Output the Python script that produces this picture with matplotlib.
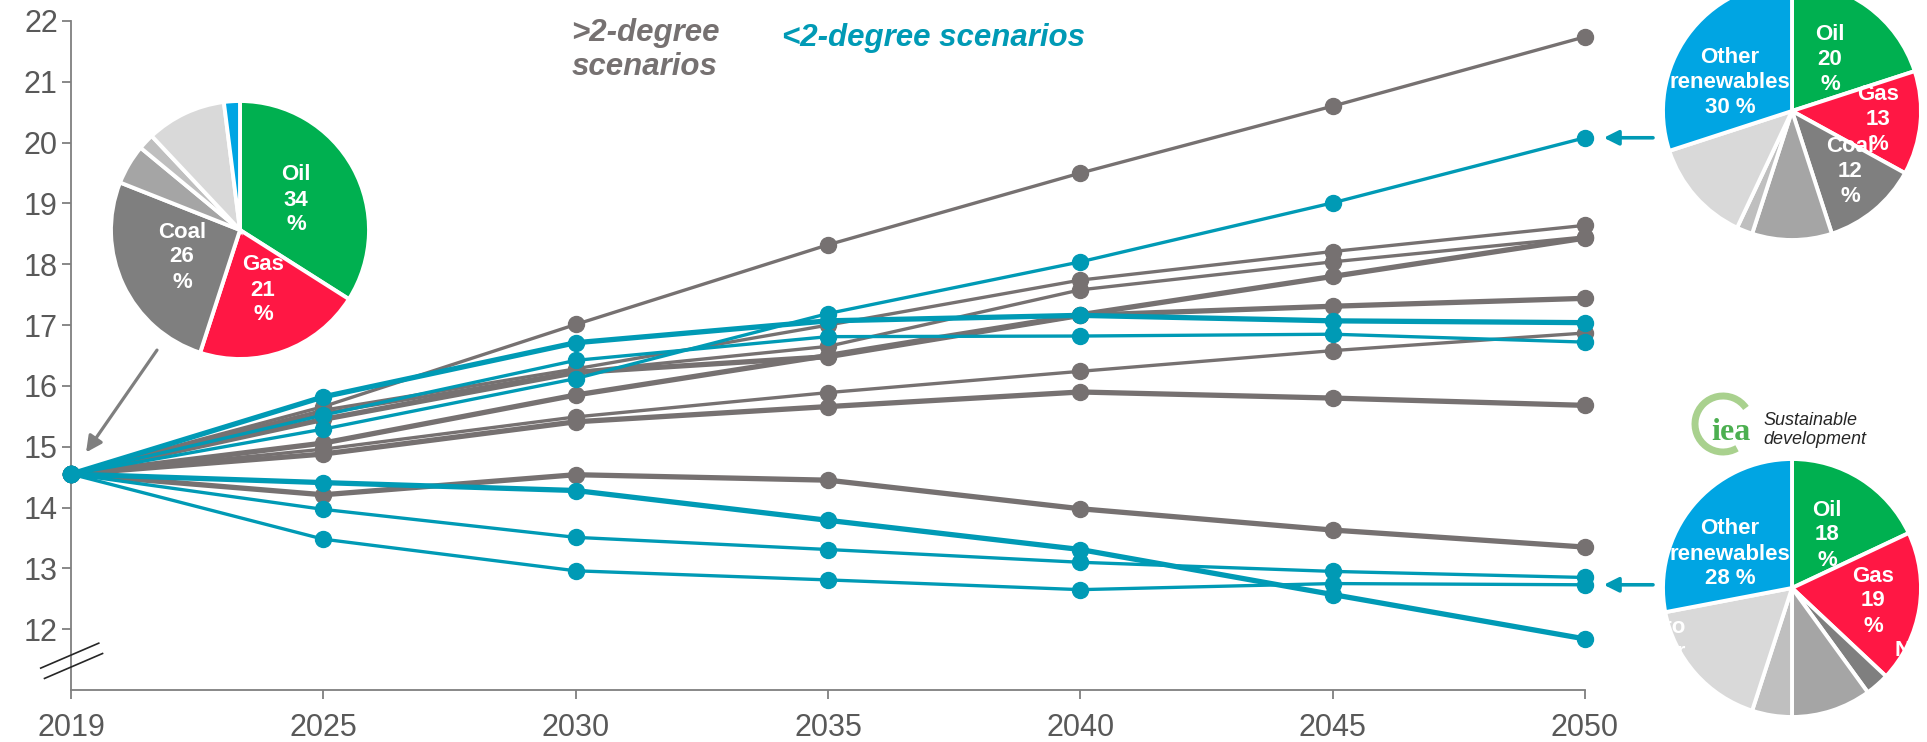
import matplotlib
matplotlib.use("Agg")
import matplotlib.pyplot as plt
from matplotlib.patches import Arc

plt.rcParams["font.family"] = ["Liberation Sans", "DejaVu Sans"]

W, H, DPI = 1927, 742, 100

# ---------------------------------------------------------------- data
years = ["2019", "2025", "2030", "2035", "2040", "2045", "2050"]

# >2-degree scenarios
above_a = [14.55, 15.66, 17.01, 18.32, 19.50, 20.60, 21.74]
above_b = [14.55, 15.60, 16.28, 17.00, 17.74, 18.21, 18.64]
above_c = [14.55, 15.55, 16.23, 16.65, 17.58, 18.04, 18.45]
above_d = [14.55, 15.06, 15.85, 16.50, 17.17, 17.80, 18.43]
above_e = [14.55, 15.45, 16.22, 16.48, 17.16, 17.31, 17.44]
above_f = [14.55, 14.96, 15.49, 15.89, 16.24, 16.58, 16.87]
above_g = [14.55, 14.88, 15.41, 15.66, 15.90, 15.80, 15.68]
above_h = [14.55, 14.21, 14.54, 14.45, 13.98, 13.63, 13.35]

# <2-degree scenarios
below_a = [14.55, 15.29, 16.12, 17.19, 18.04, 19.01, 20.08]
below_b = [14.55, 15.82, 16.71, 17.07, 17.16, 17.07, 17.04]
below_c = [14.55, 15.52, 16.42, 16.81, 16.82, 16.85, 16.72]
below_d = [14.55, 14.41, 14.28, 13.79, 13.31, 12.57, 11.84]
below_e = [14.55, 13.97, 13.51, 13.31, 13.10, 12.95, 12.85]
below_f = [14.55, 13.48, 12.96, 12.81, 12.65, 12.75, 12.73]

# energy mix shares (%)
mix_sources = ["Oil", "Gas", "Coal", "Nuclear", "Hydro", "Bioenergy", "Other renewables"]
mix_2019 = [34, 21, 26, 5, 2, 10, 2]
mix_high_2050 = [20, 13, 12, 10, 2, 13, 30]
mix_sds_2050 = [18, 19, 3, 10, 5, 17, 28]

# ---------------------------------------------------------------- styles
GREY = "#767171"
TEAL = "#009AB5"
AXIS = "#7F7F7F"
TICKTXT = "#595959"
PIE_COLORS = ["#00B050", "#FF1744", "#7F7F7F", "#A5A5A5", "#BFBFBF", "#D9D9D9", "#00A5E3"]
THIN, THICK = 2.4, 3.8
MS = 11.5


def fig_xy(x, y):
    return x / W, 1 - y / H


fig = plt.figure(figsize=(W / DPI, H / DPI), dpi=DPI)
fig.patch.set_facecolor("white")

# ---------------------------------------------------------------- main axes
x_left, x_right, y_top, y_bot = 71, 1585, 21, 690
ax = fig.add_axes([x_left / W, 1 - y_bot / H, (x_right - x_left) / W, (y_bot - y_top) / H])
ax.set_xlim(0, len(years) - 1)
ax.set_ylim(11, 22)
xs = list(range(len(years)))

series = [
    (above_h, GREY, THICK),
    (above_g, GREY, THICK),
    (above_f, GREY, THIN),
    (above_e, GREY, THICK),
    (above_d, GREY, THICK),
    (above_c, GREY, THIN),
    (above_b, GREY, THIN),
    (above_a, GREY, THIN),
    (below_f, TEAL, THIN),
    (below_e, TEAL, THIN),
    (below_d, TEAL, THICK),
    (below_c, TEAL, THIN),
    (below_b, TEAL, THICK),
    (below_a, TEAL, THIN),
]
for vals, col, lw in series:
    ax.plot(xs, vals, color=col, lw=lw, marker="o", ms=MS, mec=col, mfc=col,
            solid_capstyle="round", clip_on=False, zorder=3)

for side in ("top", "right"):
    ax.spines[side].set_visible(False)
for side in ("left", "bottom"):
    ax.spines[side].set_color(AXIS)
    ax.spines[side].set_linewidth(1.3)

ax.set_xticks(xs)
ax.set_xticklabels(years)
ax.set_yticks(range(12, 23))
ax.tick_params(axis="both", direction="out", length=6.5, width=1.3, color=AXIS,
               labelcolor=TICKTXT, labelsize=22)
ax.tick_params(axis="x", pad=10)
ax.tick_params(axis="y", pad=3)

# axis break on the value axis
for dx, dy in ((0.0, 0.0), (0.015, -0.17)):
    ax.plot([-0.12 + dx, 0.11 + dx], [11.36 + dy, 11.77 + dy], color="#262626",
            lw=1.2, clip_on=False, zorder=4)

# scenario group captions
fig.text(*fig_xy(645, 50), ">2-degree\nscenarios", color=GREY, fontsize=22.5,
         fontweight="bold", style="italic", ha="center", va="center", linespacing=1.15)
fig.text(*fig_xy(782, 38), "<2-degree scenarios", color=TEAL, fontsize=22.5,
         fontweight="bold", style="italic", ha="left", va="center")

# arrows tying the pies to the chart points
ax.annotate("", xy=(0, above_a[0]), xytext=(86, 124), textcoords="offset pixels",
            arrowprops=dict(arrowstyle="-|>", color=AXIS, lw=2.3, shrinkA=0, shrinkB=19,
                            mutation_scale=24), zorder=6)
for target in (below_a[-1], below_f[-1]):
    ax.annotate("", xy=(len(years) - 1, target), xytext=(68, 0), textcoords="offset pixels",
                arrowprops=dict(arrowstyle="-|>", color=TEAL, lw=2.6, shrinkA=0, shrinkB=13.5,
                                mutation_scale=22), zorder=6)


# ---------------------------------------------------------------- pies
def draw_pie(cx, cy, r, shares, labels):
    pa = fig.add_axes([(cx - r) / W, 1 - (cy + r) / H, 2 * r / W, 2 * r / H])
    pa.pie(shares, colors=PIE_COLORS, startangle=90, counterclock=False,
           wedgeprops=dict(edgecolor="white", linewidth=2.8))
    pa.set_xlim(-1, 1)
    pa.set_ylim(-1, 1)
    pa.set_aspect("equal")
    pa.axis("off")
    for text, dx, dy, ha in labels:
        pa.text(dx / r, dy / r, text, color="white", fontsize=16, fontweight="bold",
                ha=ha, va="center", linespacing=1.25, clip_on=False)
    return pa


R = 129
draw_pie(240, 230, R, mix_2019, [
    (f"{mix_sources[0]}\n{mix_2019[0]}\n%", 56, 30, "center"),
    (f"{mix_sources[1]}\n{mix_2019[1]}\n%", 23, -60, "center"),
    (f"{mix_sources[2]}\n{mix_2019[2]}\n%", -58, -27, "center"),
])

draw_pie(1792, 111, R, mix_high_2050, [
    (f"{mix_sources[0]}\n{mix_high_2050[0]}\n%", 38, 51, "center"),
    (f"{mix_sources[2]}\n{mix_high_2050[2]}\n%", 58, -61, "center"),
    (f"{mix_sources[1]}\n{mix_high_2050[1]}\n%", 86, -9, "center"),
    (f"Other\nrenewables\n{mix_high_2050[6]} %", -62, 28, "center"),
])

draw_pie(1792, 588, R, mix_sds_2050, [
    (f"{mix_sources[0]}\n{mix_sds_2050[0]}\n%", 35, 53, "center"),
    (f"{mix_sources[1]}\n{mix_sds_2050[1]}\n%", 81, -13, "center"),
    (f"Other\nrenewables\n{mix_sds_2050[6]} %", -62, 34, "center"),
    ("Hydro\npower", -106, -52, "right"),
    ("N", 103, -62, "left"),
])

# IEA Sustainable development badge
logo = fig.add_axes([0, 0, 1, 1], facecolor="none")
logo.set_xlim(0, W)
logo.set_ylim(H, 0)
logo.axis("off")
logo.add_patch(Arc((1723, 424), 56, 56, theta1=-300, theta2=-35, color="#A9D18E", lw=5))
logo.text(1731, 432, "iea", family=["Liberation Serif", "DejaVu Serif"], fontweight="bold",
          fontsize=23, color="#4CAF50", ha="center", va="center")
logo.text(1763, 430, "Sustainable\ndevelopment", fontsize=13, style="italic",
          color="#262626", ha="left", va="center", linespacing=1.1)

fig.savefig("out.png", dpi=DPI, facecolor="white")
